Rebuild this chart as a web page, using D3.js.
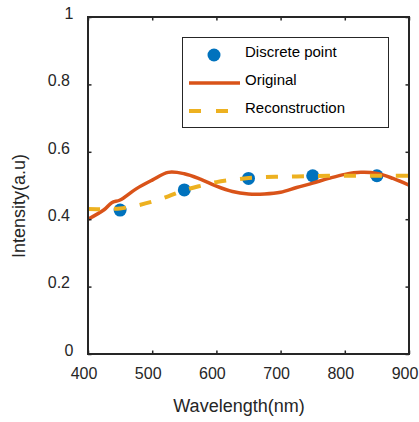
<!DOCTYPE html>
<html>
<head>
<meta charset="utf-8">
<script src="https://cdn.jsdelivr.net/npm/d3@7"></script>
<style>
  html, body { margin: 0; padding: 0; background: #fff; }
  svg { display: block; font-family: "Liberation Sans", Arial, sans-serif; }
</style>
</head>
<body>
<svg id="chart" width="419" height="422"></svg>
<script>
// Sampled wavelengths (nm) for the spectra
const wavelengths = [400, 425, 437, 450, 475, 500, 525, 550, 575, 600, 625, 650,
                     675, 700, 725, 750, 775, 800, 825, 850, 875, 900];
// Original spectrum intensity
const original = [0.400, 0.428, 0.449, 0.457, 0.490, 0.516, 0.539, 0.535, 0.519, 0.498, 0.482, 0.475,
                  0.475, 0.480, 0.494, 0.507, 0.521, 0.533, 0.539, 0.536, 0.521, 0.501];
// Reconstructed spectrum intensity
const reconWavelengths = [400, 425, 450, 475, 500, 525, 550, 575, 600, 625, 650,
                          675, 700, 725, 750, 775, 800, 825, 850, 875, 900];
const reconstruction = [0.430, 0.430, 0.432, 0.440, 0.452, 0.468, 0.486, 0.499, 0.510, 0.517, 0.522,
                        0.525, 0.526, 0.527, 0.528, 0.529, 0.529, 0.529, 0.529, 0.529, 0.529];
// Discrete sample points
const pointWavelengths = [450, 550, 650, 750, 850];
const pointValues = [0.427, 0.487, 0.521, 0.529, 0.529];

const xTicks = [400, 500, 600, 700, 800, 900];
const yTicks = [0, 0.2, 0.4, 0.6, 0.8, 1];
const legendLabels = ["Discrete point", "Original", "Reconstruction"];

const colors = { point: "#0072BD", original: "#D95319", recon: "#EDB120", axis: "#262626" };

const svg = d3.select("#chart");
const plotLeft = 88, plotRight = 409, plotTop = 17, plotBottom = 354;

const x = d3.scaleLinear().domain([400, 900]).range([plotLeft, plotRight]);
const y = d3.scaleLinear().domain([0, 1]).range([plotBottom, plotTop]);

svg.append("defs").append("clipPath").attr("id", "plotClip")
  .append("rect").attr("x", plotLeft).attr("y", plotTop)
  .attr("width", plotRight - plotLeft).attr("height", plotBottom - plotTop);

const plot = svg.append("g").attr("clip-path", "url(#plotClip)");

// Discrete points
plot.selectAll("circle.pt").data(pointWavelengths).enter()
  .append("circle").attr("class", "pt")
  .attr("cx", d => x(d))
  .attr("cy", (d, i) => y(pointValues[i]))
  .attr("r", 6.5)
  .attr("fill", colors.point);

const line = d3.line()
  .x(d => x(d[0])).y(d => y(d[1]))
  .curve(d3.curveCatmullRom.alpha(0.5));

// Original spectrum
plot.append("path")
  .datum(wavelengths.map((w, i) => [w, original[i]]))
  .attr("d", line)
  .attr("fill", "none")
  .attr("stroke", colors.original)
  .attr("stroke-width", 3.5);

// Reconstruction (dashed)
plot.append("path")
  .datum(reconWavelengths.map((w, i) => [w, reconstruction[i]]))
  .attr("d", line)
  .attr("fill", "none")
  .attr("stroke", colors.recon)
  .attr("stroke-width", 4)
  .attr("stroke-dasharray", "12,14");

// Axes (box with inward ticks on all four sides)
const tickLen = 3.5;
const axisStyle = g => {
  g.select(".domain").remove();
  g.selectAll(".tick line").attr("stroke", colors.axis).attr("stroke-width", 1.5);
  g.selectAll(".tick text").attr("fill", colors.axis)
    .style("font-family", '"Liberation Sans", Arial, sans-serif');
};

svg.append("g").attr("transform", `translate(0,${plotBottom})`)
  .call(d3.axisBottom(x).tickValues(xTicks).tickSize(-tickLen).tickPadding(14)
        .tickFormat(d3.format("d")))
  .call(axisStyle)
  .call(g => g.selectAll(".tick text").style("font-size", "16px").attr("dx", -4.5));

svg.append("g").attr("transform", `translate(0,${plotTop})`)
  .call(d3.axisTop(x).tickValues(xTicks).tickSize(-tickLen).tickFormat(""))
  .call(axisStyle);

svg.append("g").attr("transform", `translate(${plotLeft},0)`)
  .call(d3.axisLeft(y).tickValues(yTicks).tickSize(-tickLen).tickPadding(18)
        .tickFormat(d => d === 0 || d === 1 ? d3.format("d")(d) : d3.format(".1f")(d)))
  .call(axisStyle)
  .call(g => g.selectAll(".tick text").style("font-size", "16px").attr("dy", "0.08em")
    .attr("dx", d => (d === 0 || d === 1) ? 3.5 : 0));

svg.append("g").attr("transform", `translate(${plotRight},0)`)
  .call(d3.axisRight(y).tickValues(yTicks).tickSize(-tickLen).tickFormat(""))
  .call(axisStyle);

// Frame
svg.append("rect")
  .attr("x", plotLeft).attr("y", plotTop)
  .attr("width", plotRight - plotLeft).attr("height", plotBottom - plotTop)
  .attr("fill", "none").attr("stroke", colors.axis).attr("stroke-width", 2);

// Axis titles
svg.append("text")
  .attr("x", 239).attr("y", 412)
  .attr("text-anchor", "middle")
  .attr("fill", colors.axis)
  .style("font-size", "18px")
  .text("Wavelength(nm)");

svg.append("text")
  .attr("transform", "translate(25,206) rotate(-90)")
  .attr("text-anchor", "middle")
  .attr("fill", colors.axis)
  .style("font-size", "18px")
  .text("Intensity(a.u)");

// Legend
const legend = svg.append("g");
legend.append("rect")
  .attr("x", 182.5).attr("y", 37.5).attr("width", 206).attr("height", 90)
  .attr("fill", "#fff").attr("stroke", colors.axis).attr("stroke-width", 1);

const rowY = [52, 80, 108];
legend.append("circle").attr("cx", 214).attr("cy", rowY[0] + 3).attr("r", 6.5).attr("fill", colors.point);
legend.append("line").attr("x1", 189).attr("x2", 240).attr("y1", rowY[1] + 3).attr("y2", rowY[1] + 3)
  .attr("stroke", colors.original).attr("stroke-width", 3.5);
legend.append("line").attr("x1", 189).attr("x2", 240).attr("y1", rowY[2] + 3).attr("y2", rowY[2] + 3)
  .attr("stroke", colors.recon).attr("stroke-width", 4).attr("stroke-dasharray", "12,15");

legend.selectAll("text.lbl").data(legendLabels).enter()
  .append("text").attr("class", "lbl")
  .attr("x", 245).attr("y", (d, i) => rowY[i])
  .attr("dy", "0.35em")
  .attr("fill", "#000")
  .style("font-size", "15px")
  .text(d => d);
</script>
</body>
</html>
